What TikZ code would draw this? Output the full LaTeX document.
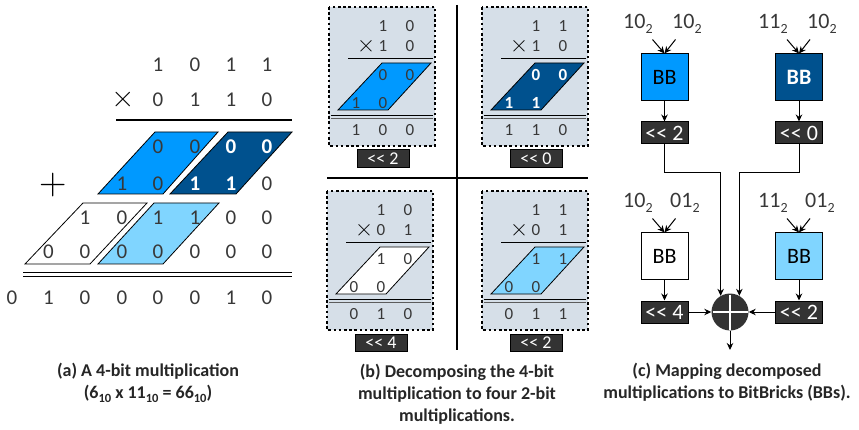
\documentclass[tikz,border=0pt]{standalone}
\usepackage{fontspec}
\setmainfont{Carlito}[Ligatures=TeXOff]
\newfontfamily\lmfont{Latin Modern Roman}
\usetikzlibrary{arrows.meta,calc}
\definecolor{mblue}{HTML}{0099FF}
\definecolor{dblue}{HTML}{00518E}
\definecolor{lblue}{HTML}{80D5FF}
\definecolor{panelc}{HTML}{D6DFE8}
\definecolor{dgray}{HTML}{333333}
\definecolor{tgray}{HTML}{383838}
\definecolor{capgray}{HTML}{262626}
\newcommand\fs[1]{\fontsize{#1}{#1}\selectfont}
\newcommand\subn[1]{\raisebox{-0.45ex}{\fs{14}#1}}
\newcommand\subc[1]{\raisebox{-0.5ex}{\fs{12.5}#1}}
\tikzset{
  dA/.style={font=\fs{21}, text=tgray, inner sep=0pt},
  dAw/.style={font=\fs{21}\bfseries, text=white, inner sep=0pt},
  dB/.style={font=\fs{17}, text=tgray, inner sep=0pt},
  pgram/.style={draw=black, line width=0.8pt, line join=miter},
  dotbox/.style={draw=black, line width=2pt, dash pattern=on 2.6pt off 2.6pt},
  bshift/.style={fill=dgray, draw=black, line width=0.5pt, text=white, font=\fs{18}, minimum width=52pt, minimum height=17.5pt, inner sep=0pt},
  bbox/.style={draw=black, line width=1pt, minimum width=47pt, minimum height=47pt, inner sep=0pt, font=\fs{22}, text=black},
  cshift/.style={fill=dgray, draw=black, line width=1pt, text=white, font=\fs{22}, minimum width=47pt, minimum height=22pt, inner sep=0pt},
  lab/.style={font=\fs{22}, text=tgray, inner sep=0pt, anchor=base west},
  arr/.style={-{Stealth[length=7pt,width=6.5pt]}, line width=1pt},
  captxt/.style={align=center, font=\fontsize{18}{22}\selectfont\bfseries, text=capgray, inner sep=0pt},
  opsym/.style={text=black, inner sep=0pt},
}
\begin{document}
\begin{tikzpicture}[x=1pt,y=-1pt]
\useasboundingbox (0,0) rectangle (859,430);
\fill[white] (0,0) rectangle (859,430);

% ---------------- panel (a) ----------------
\draw[pgram, fill=mblue] (98,194) -- (155,132) -- (218,132) -- (163,194) -- cycle;
\draw[pgram, fill=dblue] (170,194) -- (228,132) -- (292,132) -- (236,194) -- cycle;
\draw[pgram, fill=white] (25,264) -- (83,203) -- (147,203) -- (90,264) -- cycle;
\draw[pgram, fill=lblue] (98,264) -- (154,203) -- (219,203) -- (163,264) -- cycle;

\foreach \x/\t [count=\i] in {158/1,195/0,231/1,267/1}
  \node[dA] (ra1-\i) at (\x,65) {\t};
\node[opsym, font=\lmfont\fs{32}] (atimes) at (123,100) {×};
\foreach \x/\t [count=\i] in {158/0,195/1,231/1,267/0}
  \node[dA] (ra2-\i) at (\x,100) {\t};
\draw[line width=1.2pt] (116,120) -- (292,120);
\foreach \x/\t [count=\i] in {158/0,195/0}
  \node[dA] (ra3-\i) at (\x,147) {\t};
\foreach \x/\t [count=\i] in {231/0,267/0}
  \node[dAw] (ra3w-\i) at (\x,147) {\t};
\foreach \x/\t [count=\i] in {122/1,158/0,267/0}
  \node[dA] (ra4-\i) at (\x,184) {\t};
\foreach \x/\t [count=\i] in {195/1,231/1}
  \node[dAw] (ra4w-\i) at (\x,184) {\t};
\node[opsym, font=\lmfont\fs{38}] (aplus) at (53,185) {+};
\foreach \x/\t [count=\i] in {85/1,122/0,158/1,195/1,231/0,267/0}
  \node[dA] (ra5-\i) at (\x,218) {\t};
\foreach \x [count=\i] in {48.5,85,122,158,195,231,267}
  \node[dA] (ra6-\i) at (\x,252) {0};
\draw[line width=1pt] (23,273) -- (292,273);
\draw[line width=1pt] (23,276.5) -- (292,276.5);
\foreach \x/\t [count=\i] in {12/0,48.5/1,85/0,122/0,158/0,195/0,231/1,267/0}
  \node[dA] (ra7-\i) at (\x,298) {\t};

% ---------------- panel (b) ----------------
\foreach \p/\sx/\sy/\ta/\tb/\ma/\mb/\pf/\tc/\fw/\ua/\ub/\la/\lb/\ra/\rb/\rc/\sh in {
  tl/329/7/1/0/1/0/mblue/tgray/\mdseries/0/0/1/0/1/0/0/2,
  tr/482/7/1/1/1/0/dblue/white/\bfseries/0/0/1/1/1/1/0/0,
  bl/327/191/1/0/0/1/white/tgray/\mdseries/1/0/0/0/0/1/0/4,
  br/482/191/1/1/0/1/lblue/tgray/\mdseries/1/1/0/0/0/1/1/2}
{
  \begin{scope}[shift={(\sx,\sy)}]
    \fill[panelc] (0,0) rectangle (106,139);
    \draw[dotbox] (0,0) rectangle (106,139);
    \node[dB] (\p-t1) at (54,19) {\ta};
    \node[dB] (\p-t2) at (81,19) {\tb};
    \node[opsym, font=\lmfont\fs{25}] (\p-x) at (37,39.5) {×};
    \node[dB] (\p-m1) at (54,39) {\ma};
    \node[dB] (\p-m2) at (81,39) {\mb};
    \draw[line width=1pt] (19,52) -- (104,52);
    \draw[pgram, fill=\pf] (9,103) -- (53,56) -- (102,56) -- (59,103) -- cycle;
    \node[dB, text=\tc, font=\fs{17}\fw] (\p-u1) at (54,68) {\ua};
    \node[dB, text=\tc, font=\fs{17}\fw] (\p-u2) at (81,68) {\ub};
    \node[dB, text=\tc, font=\fs{17}\fw] (\p-l1) at (27,96) {\la};
    \node[dB, text=\tc, font=\fs{17}\fw] (\p-l2) at (54,96) {\lb};
    \draw[line width=1pt] (2,108.5) -- (104,108.5);
    \draw[line width=1.6pt, draw=dgray!80] (2,111.5) -- (104,111.5);
    \node[dB] (\p-r1) at (27,123) {\ra};
    \node[dB] (\p-r2) at (54,123) {\rb};
    \node[dB] (\p-r3) at (81,123) {\rc};
    \node[bshift] (\p-sh) at (54,151.5) {<< \sh};
  \end{scope}
}
\draw[line width=2pt] (457,5) -- (457,350);
\draw[line width=2pt] (327,178) -- (588,178);

% ---------------- panel (c) ----------------
\node[bbox, fill=mblue] (bb1) at (664.5,77.5) {BB};
\node[bbox, fill=dblue, text=white, font=\fs{22}\bfseries] (bb2) at (799,77.5) {BB};
\node[bbox, fill=white] (bb3) at (664.5,256.5) {BB};
\node[bbox, fill=lblue] (bb4) at (799,256.5) {BB};
\node[cshift] (sh1) at (664.5,133) {<< 2};
\node[cshift] (sh2) at (799,133) {<< 0};
\node[cshift] (sh3) at (664.5,312) {<< 4};
\node[cshift] (sh4) at (799,312) {<< 2};
\node[circle, fill=dgray, minimum size=37pt, inner sep=0pt] (add) at (730,312) {};
\draw[white, line width=2pt] ($(add.center)+(-17.5,0)$) -- ($(add.center)+(17.5,0)$);
\draw[white, line width=2pt] ($(add.center)+(0,-17.5)$) -- ($(add.center)+(0,17.5)$);

\node[lab] (l1a) at (623,28.5) {10\subn{2}};
\node[lab] (l1b) at (672,28.5) {10\subn{2}};
\node[lab] (l2a) at (758,28.5) {11\subn{2}};
\node[lab] (l2b) at (807,28.5) {10\subn{2}};
\node[lab] (l3a) at (623,208) {10\subn{2}};
\node[lab] (l3b) at (670,208) {01\subn{2}};
\node[lab] (l4a) at (758,208) {11\subn{2}};
\node[lab] (l4b) at (805,208) {01\subn{2}};

\foreach \b in {bb1,bb2,bb3,bb4}{
  \draw[arr] ([shift={(-12,-14)}]\b.north) -- (\b.north);
  \draw[arr] ([shift={(11,-14)}]\b.north) -- (\b.north);
}
\draw[arr] (bb1.south) -- (sh1.north);
\draw[arr] (bb2.south) -- (sh2.north);
\draw[arr] (bb3.south) -- (sh3.north);
\draw[arr] (bb4.south) -- (sh4.north);
\coordinate (h1) at (0,173);
\draw[arr] (sh1.south) |- (add.120 |- h1) -- (add.120);
\draw[arr] (sh2.south) |- (add.60 |- h1) -- (add.60);
\draw[arr] (sh3.east) -- (add.west);
\draw[arr] (sh4.west) -- (add.east);
\coordinate (out) at (730,350);
\draw[arr] (add.south) -- (out);

% ---------------- captions ----------------
\node[captxt] (capa) at (148,383) {(a) A 4-bit multiplication\\(6\subc{10} x 11\subc{10} = 66\subc{10})};
\node[captxt] (capb) at (457,394.5) {(b) Decomposing the 4-bit\\multiplication to four 2-bit\\multiplications.};
\node[captxt] (capc) at (727,382.5) {(c) Mapping decomposed\\multiplications to BitBricks (BBs).};
\end{tikzpicture}
\end{document}
